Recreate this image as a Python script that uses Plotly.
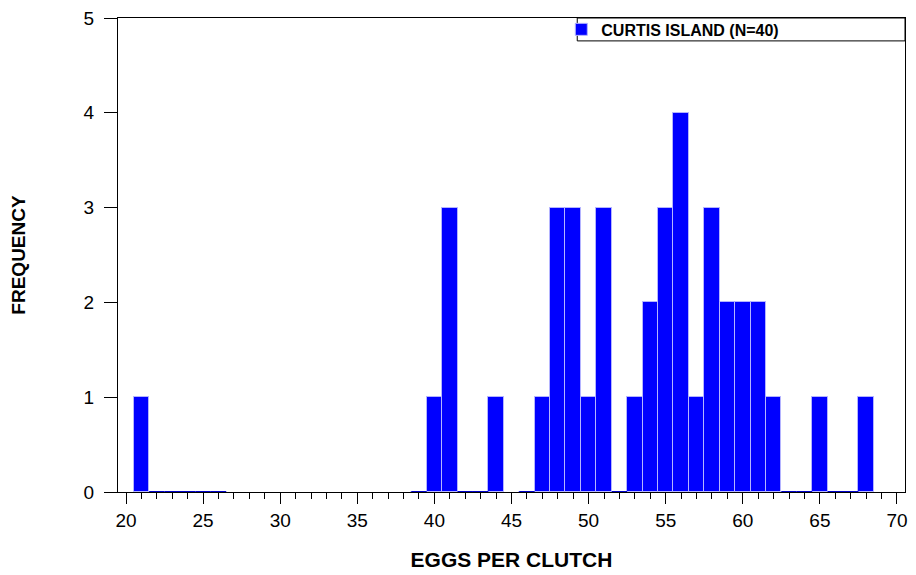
import plotly.graph_objects as go

# Data
bins = [21, 22, 23, 24, 25, 26, 39, 40, 41, 42, 43, 44, 46, 47, 48, 49, 50, 51, 52,
        53, 54, 55, 56, 57, 58, 59, 60, 61, 62, 63, 64, 65, 66, 67, 68]
counts = [1, 0, 0, 0, 0, 0, 0, 1, 3, 0, 0, 1, 0, 1, 3, 3, 1, 3, 0,
          1, 2, 3, 4, 1, 3, 2, 2, 2, 1, 0, 0, 1, 0, 0, 1]
series_name = "CURTIS ISLAND (N=40)"
x_title = "EGGS PER CLUTCH"
y_title = "FREQUENCY"

FONT = "Liberation Sans, Arial, sans-serif"

fig = go.Figure()
fig.add_trace(go.Bar(
    x=bins, y=counts, width=1.0, name=series_name,
    marker=dict(color="#0000FF", line=dict(color="#B4B4FF", width=1)),
    showlegend=True,
))

# zero-count bins drawn as thin dashes at baseline
zx, zy = [], []
for b, c in zip(bins, counts):
    if c == 0:
        zx += [b - 0.5, b + 0.5, None]
        zy += [0, 0, None]
fig.add_trace(go.Scatter(
    x=zx, y=zy, mode="lines", line=dict(color="#0000C8", width=2),
    showlegend=False, hoverinfo="skip", cliponaxis=False,
))

# legend frame (plot area: 790 x 476 px)
fig.add_shape(type="rect", xref="paper", yref="paper",
              x0=(579 - 118) / 790, x1=1.0, y0=1 - 23 / 476, y1=1.0,
              line=dict(color="black", width=1), fillcolor="white", layer="above")

fig.update_layout(
    width=916, height=575,
    margin=dict(l=118, r=8, t=16, b=83),
    plot_bgcolor="white", paper_bgcolor="white",
    font=dict(family=FONT, size=19, color="black"),
    bargap=0,
    showlegend=True,
    legend=dict(
        x=(563 - 118) / 790, y=1 - 11.5 / 476, xanchor="left", yanchor="middle",
        borderwidth=0, bgcolor="rgba(0,0,0,0)",
        font=dict(family=FONT, size=16, color="black", weight="bold"),
    ),
    xaxis=dict(
        range=[19.48, 70.52], dtick=5, tick0=0,
        ticks="outside", ticklen=11, tickwidth=1, tickcolor="black",
        minor=dict(dtick=1, ticks="outside", ticklen=6, tickwidth=1, tickcolor="black"),
        showline=True, linecolor="black", linewidth=1, mirror=True,
        showgrid=False, zeroline=False,
        tickfont=dict(size=19),
        title=dict(text=x_title, font=dict(size=21, weight="bold"), standoff=22),
    ),
    yaxis=dict(
        range=[0, 5], dtick=1,
        ticks="outside", ticklen=13, tickwidth=1, tickcolor="black",
        showline=True, linecolor="black", linewidth=1, mirror=True,
        showgrid=False, zeroline=False,
        ticklabelstandoff=6,
        tickfont=dict(size=19),
        title=dict(text=y_title, font=dict(size=19, weight="bold"), standoff=52),
    ),
)

fig.write_html("out.html")
